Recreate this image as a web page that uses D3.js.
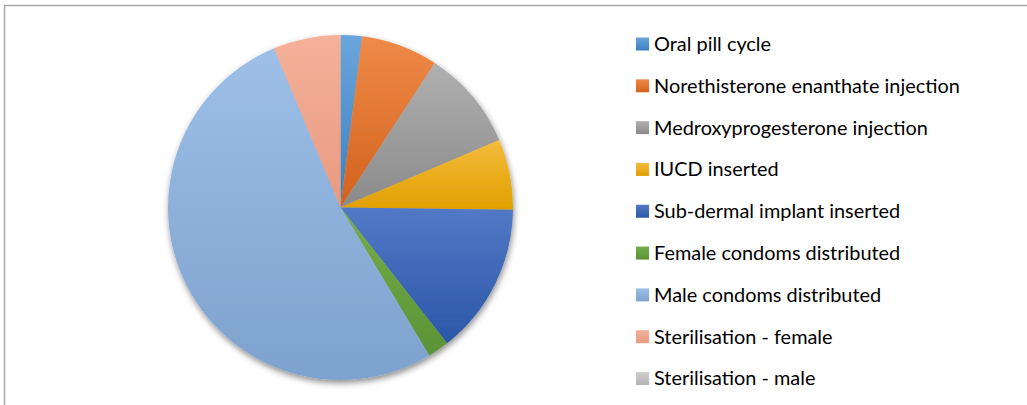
<!DOCTYPE html>
<html>
<head>
<meta charset="utf-8">
<script src="https://cdn.jsdelivr.net/npm/d3@7"></script>
<style>
  body { margin: 0; background: #fff; }
  svg { display: block; }
  .legend text { font-family: Lato, "Open Sans", sans-serif; fill: #000; }
</style>
</head>
<body>
<svg id="chart" width="1027" height="405"></svg>
<script>
// contraceptive methods, share of total (%)
const categories = [
  "Oral pill cycle",
  "Norethisterone enanthate injection",
  "Medroxyprogesterone injection",
  "IUCD inserted",
  "Sub-dermal implant inserted",
  "Female condoms distributed",
  "Male condoms distributed",
  "Sterilisation - female",
  "Sterilisation - male"
];
const values = [2.0, 7.2, 9.4, 6.6, 14.2, 2.0, 52.3, 6.3, 0.0];

// top / bottom gradient stops per slice
const colorsTop = ["#6aa6dc", "#ef8a48", "#b0b0b0", "#f4bb3c", "#5279c6", "#76ae4c", "#9dbfe8", "#f5b19a", "#cfcfcf"];
const colorsBottom = ["#3d7fc0", "#d2621c", "#8a8a8a", "#e0a000", "#2b56a8", "#5a9336", "#7da2cd", "#e89a80", "#b3b3b3"];

const settings = { width: 1027, height: 405, cx: 340.5, cy: 207.5, radius: 172.5 };

const svg = d3.select("#chart");
const defs = svg.append("defs");

// soft shadow under the pie
const shadow = defs.append("filter").attr("id", "shadow")
  .attr("x", "-20%").attr("y", "-20%").attr("width", "140%").attr("height", "140%");
shadow.append("feDropShadow")
  .attr("dx", 1).attr("dy", 3).attr("stdDeviation", 3)
  .attr("flood-color", "#000").attr("flood-opacity", 0.45);

categories.forEach((c, i) => {
  const g = defs.append("linearGradient").attr("id", "grad" + i)
    .attr("x1", 0).attr("y1", 0).attr("x2", 0).attr("y2", 1);
  g.append("stop").attr("offset", "0%").attr("stop-color", colorsTop[i]);
  g.append("stop").attr("offset", "100%").attr("stop-color", colorsBottom[i]);
});

// frame (only top and left edges are visible in the crop)
svg.append("path")
  .attr("d", `M4.5,${settings.height} V5.5 H${settings.width}`)
  .attr("fill", "none").attr("stroke", "#a6a6a6").attr("stroke-width", 1.5);

const data = categories.map((c, i) => ({ label: c, value: values[i], idx: i }));

const pie = d3.pie().sort(null).value(d => d.value);
const arc = d3.arc().innerRadius(0).outerRadius(settings.radius);

const g = svg.append("g")
  .attr("transform", `translate(${settings.cx},${settings.cy})`)
  .attr("filter", "url(#shadow)");

g.selectAll("path")
  .data(pie(data).filter(d => d.data.value > 0))
  .enter().append("path")
  .attr("d", arc)
  .attr("fill", d => `url(#grad${d.data.idx})`);

// legend
const legend = svg.append("g").attr("class", "legend");
const rowY = d3.scalePoint().domain(categories).range([44, 378.5]);

const lg = legend.selectAll("g")
  .data(data)
  .enter().append("g")
  .attr("transform", d => `translate(636,${rowY(d.label)})`);

lg.append("rect")
  .attr("x", 0).attr("y", -6.5)
  .attr("width", 13).attr("height", 13)
  .attr("fill", d => `url(#grad${d.idx})`);

const texts = lg.append("text")
  .attr("x", 18)
  .attr("dy", "0.35em")
  .style("font-size", "18px")
  .text(d => d.label);

// fit the longest label to the width seen in the original
let maxW = 0;
texts.each(function () { maxW = Math.max(maxW, this.getComputedTextLength()); });
const fs = 18 * 306 / maxW;
texts.style("font-size", fs.toFixed(2) + "px");
</script>
</body>
</html>
